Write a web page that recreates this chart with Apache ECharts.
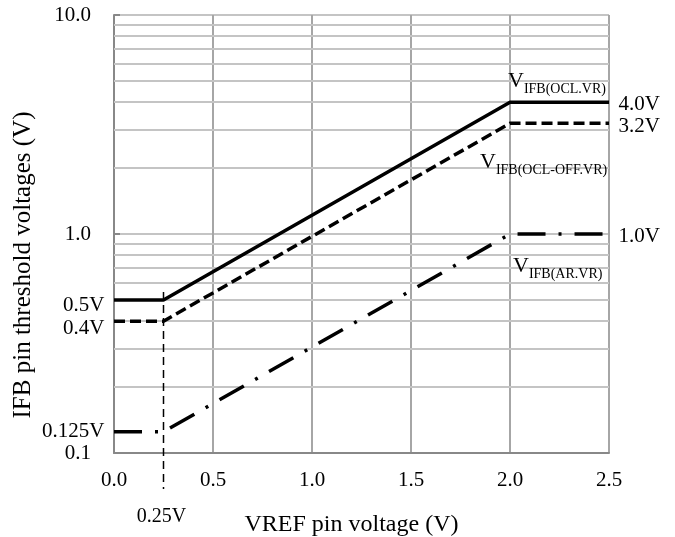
<!DOCTYPE html>
<html>
<head>
<meta charset="utf-8">
<script src="https://cdn.jsdelivr.net/npm/echarts@6/dist/echarts.min.js"></script>
<style>
  html, body { margin: 0; padding: 0; background: #fff; }
  #chart { width: 675px; height: 537px; }
</style>
</head>
<body>
<div id="chart"></div>
<script>
// x = VREF pin voltage (V), y = IFB threshold (V)
const ocl    = [[0, 0.5], [0.25, 0.5], [2.0, 4.0], [2.5, 4.0]];
const oclOff = [[0, 0.4], [0.25, 0.4], [2.0, 3.2], [2.5, 3.2]];
const ar     = [[0, 0.125], [0.25, 0.125], [2.0, 1.0], [2.5, 1.0]];
const leftLabels  = ['0.5V', '0.4V', '0.125V'];
const rightLabels = ['4.0V', '3.2V', '1.0V'];
const minorGrid = [0.2, 0.3, 0.4, 0.5, 0.6, 0.7, 0.8, 0.9, 2, 3, 4, 5, 6, 7, 8, 9];
const vrefMin = 0.25;

const FONT = 'Liberation Serif';
const chart = echarts.init(document.getElementById('chart'));

function endLabels(data, left, right, offL, offR) {
    // label on first point (left of axis) and last point (right of plot)
    return data.map((p, i) => {
        let item = { value: p };
        if (i === 0) {
            item.label = { show: true, position: 'left', distance: 9, formatter: left, offset: [0, offL] };
        } else if (i === data.length - 1) {
            item.label = { show: true, position: 'right', distance: 9, formatter: right, offset: [0, offR] };
        }
        return item;
    });
}

const lbl = { color: '#000', fontFamily: FONT, fontSize: 21 };

function lineSeries(name, data, type, left, right, offL, offR) {
    return {
        name: name,
        type: 'line',
        z: 5,
        symbol: 'circle',
        symbolSize: 1,
        itemStyle: { color: 'rgba(0,0,0,0)' },
        data: endLabels(data, left, right, offL, offR),
        lineStyle: { color: '#000', width: 3.5, type: type },
        label: lbl
    };
}

let options = {
    animation: false,
    grid: { left: 114, right: 66, top: 15, bottom: 84, outerBoundsMode: 'none' },
    xAxis: {
        type: 'value',
        min: 0, max: 2.5, interval: 0.5,
        name: 'VREF pin voltage (V)',
        nameLocation: 'middle',
        nameGap: 60,
        nameTextStyle: { color: '#000', fontFamily: FONT, fontSize: 24, padding: [0, 20, 0, 0] },
        axisLine: { lineStyle: { color: '#888', width: 2 } },
        axisTick: { show: false },
        axisLabel: Object.assign({ margin: 17, formatter: v => v.toFixed(1) }, lbl),
        splitLine: { show: true, lineStyle: { color: '#a6a6a6', width: 2 } }
    },
    yAxis: {
        type: 'log',
        logBase: 10,
        min: 0.1, max: 10,
        name: 'IFB pin threshold voltages (V)',
        nameLocation: 'middle',
        nameGap: 78,
        nameTextStyle: { color: '#000', fontFamily: FONT, fontSize: 25, padding: [0, 62, 0, 0] },
        axisLine: { show: true, lineStyle: { color: '#888', width: 2 } },
        axisTick: { show: true, inside: true, length: 6, lineStyle: { color: '#888', width: 2 } },
        axisLabel: Object.assign({ margin: 23, formatter: v => Number(v).toFixed(1) }, lbl),
        splitLine: { show: true, lineStyle: { color: '#c4c4c4', width: 2 } }
    },
    series: [
        {
            // minor horizontal grid lines 2..9 of each decade
            type: 'line',
            data: [],
            z: 1,
            silent: true,
            markLine: {
                silent: true,
                symbol: 'none',
                label: { show: false },
                lineStyle: { color: '#c4c4c4', width: 2, type: 'solid' },
                data: minorGrid.map(v => ({ yAxis: v }))
            }
        },
        lineSeries('VIFB(OCL.VR)', ocl, 'solid', leftLabels[0], rightLabels[0], 6, 2),
        lineSeries('VIFB(OCL-OFF.VR)', oclOff, [11, 5], leftLabels[1], rightLabels[1], 7, 3),
        lineSeries('VIFB(AR.VR)', ar, [28, 13, 3, 13], leftLabels[2], rightLabels[2], 0, 2)
    ]
};
chart.setOption(options);

// vertical dashed marker at VREF = 0.25V, running below the x axis
const pTop = chart.convertToPixel({ gridIndex: 0 }, [vrefMin, ocl[1][1]]);
const pBot = chart.convertToPixel({ gridIndex: 0 }, [vrefMin, 0.1]);
const rich = {
    v: { fontFamily: FONT, fontSize: 22, color: '#000' },
    s: { fontFamily: FONT, fontSize: 14, color: '#000', padding: [15, 0, 0, 0] }
};
chart.setOption({
    graphic: [
        {
            type: 'line', z: 10,
            shape: { x1: pTop[0], y1: pTop[1] - 8, x2: pBot[0], y2: pBot[1] + 36 },
            style: { stroke: '#000', lineWidth: 1.5, lineDash: [8, 5] }
        },
        {
            type: 'text', z: 10,
            x: pBot[0] - 2, y: pBot[1] + 64,
            style: { text: vrefMin + 'V', fontFamily: FONT, fontSize: 20, fill: '#000', align: 'center', verticalAlign: 'middle' }
        },
        {
            type: 'text', z: 10, x: 508, y: 67,
            style: { text: '{v|V}{s|IFB(OCL.VR)}', rich: rich }
        },
        {
            type: 'text', z: 10, x: 480, y: 148,
            style: { text: '{v|V}{s|IFB(OCL-OFF.VR)}', rich: rich }
        },
        {
            type: 'text', z: 10, x: 513, y: 252,
            style: { text: '{v|V}{s|IFB(AR.VR)}', rich: rich }
        }
    ]
});
</script>
</body>
</html>
